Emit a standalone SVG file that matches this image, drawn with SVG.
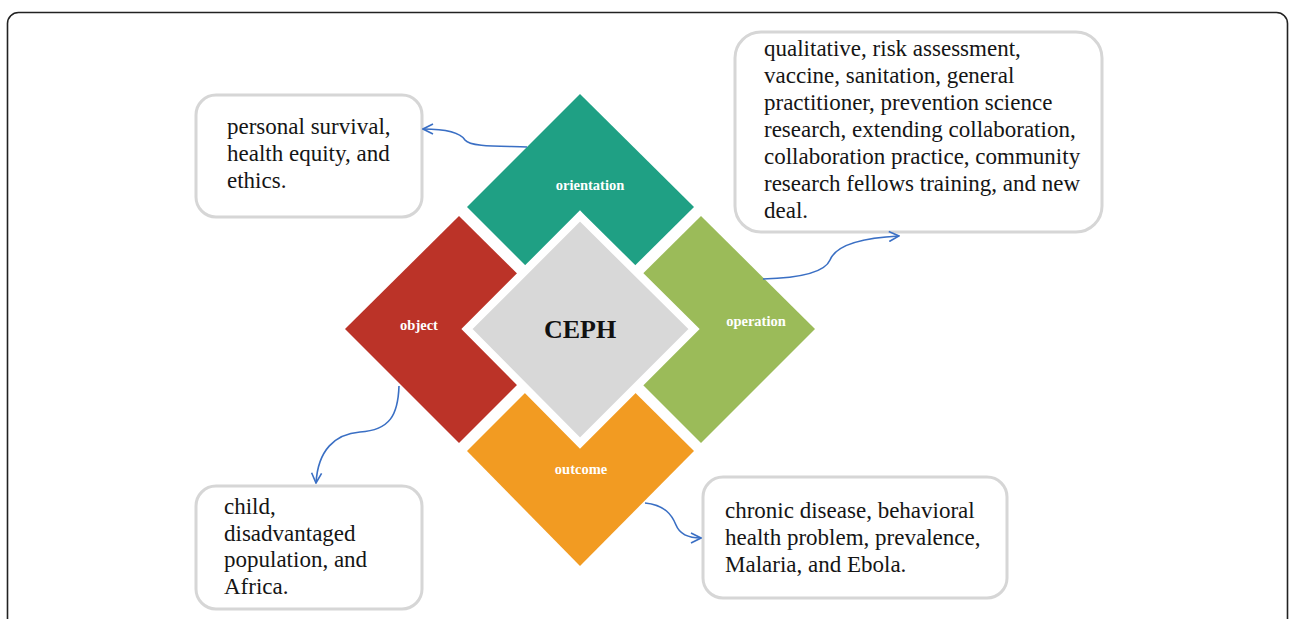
<svg xmlns="http://www.w3.org/2000/svg" width="1290" height="619" viewBox="0 0 1290 619">
<style>
.box{fill:#fff;stroke:#d6d6d6;stroke-width:3}
.t{font-family:"Liberation Serif","Times New Roman",serif;font-size:23px;fill:#151515}
.lab{font-family:"Liberation Serif","Times New Roman",serif;font-size:14.5px;font-weight:bold;fill:#fff;text-anchor:middle}
.con{fill:none;stroke:#3a6fc4;stroke-width:1.6;marker-end:url(#ah)}
</style>
<defs>
<marker id="ah" viewBox="0 0 12 12" refX="11" refY="6" markerWidth="12" markerHeight="12" markerUnits="userSpaceOnUse" orient="auto">
<path d="M1,1 L11,6 L1,11" fill="none" stroke="#3a6fc4" stroke-width="1.6"/>
</marker>
</defs>
<rect x="7.5" y="12.5" width="1280" height="640" rx="11" fill="#fff" stroke="#222" stroke-width="1.6"/>
<g id="orientation"><polygon points="580,94 694,207 580,320 467,207" fill="#1fa084"/></g>
<g id="object"><polygon points="459,216 573,329 459,443 345,329" fill="#bb3328"/></g>
<g id="operation"><polygon points="701,216 815,329 701,443 587,329" fill="#9bbb59"/></g>
<g id="outcome"><polygon points="580,338 694,451 580,566 467,451" fill="#f29b22"/></g>
<g id="ceph"><polygon points="580,216 694,329 580,443 467,329" fill="#d8d8d8" stroke="#fff" stroke-width="8" stroke-linejoin="miter"/><text x="580" y="338" font-family="Liberation Serif,Times New Roman,serif" font-size="26" font-weight="bold" fill="#111" text-anchor="middle">CEPH</text></g>
<g id="labels">
<text class="lab" x="590" y="190">orientation</text>
<text class="lab" x="419" y="330">object</text>
<text class="lab" x="756" y="326">operation</text>
<text class="lab" x="581" y="474">outcome</text>
</g>
<g id="box-orientation"><rect class="box" x="196" y="95" width="226" height="122" rx="20"/>
<text class="t" x="227" y="134">personal survival,</text>
<text class="t" x="227" y="161">health equity, and</text>
<text class="t" x="227" y="188">ethics.</text></g>
<g id="box-operation"><rect class="box" x="735" y="32" width="367" height="200" rx="26"/>
<text class="t" x="764" y="56">qualitative, risk assessment,</text>
<text class="t" x="764" y="83">vaccine, sanitation, general</text>
<text class="t" x="764" y="110">practitioner, prevention science</text>
<text class="t" x="764" y="137">research, extending collaboration,</text>
<text class="t" x="764" y="164">collaboration practice, community</text>
<text class="t" x="764" y="191">research fellows training, and new</text>
<text class="t" x="764" y="218">deal.</text></g>
<g id="box-object"><rect class="box" x="196" y="486" width="226" height="123" rx="20"/>
<text class="t" x="224" y="514">child,</text>
<text class="t" x="224" y="541">disadvantaged</text>
<text class="t" x="224" y="567">population, and</text>
<text class="t" x="224" y="594">Africa.</text></g>
<g id="box-outcome"><rect class="box" x="703" y="477" width="304" height="121" rx="20"/>
<text class="t" x="725" y="518">chronic disease, behavioral</text>
<text class="t" x="725" y="545">health problem, prevalence,</text>
<text class="t" x="725" y="572">Malaria, and Ebola.</text></g>
<g id="connectors">
<path class="con" d="M527,147 C500,146 470,147 465,140 C460,132 442,129 423,129"/>
<path class="con" d="M763,279 C800,278 825,272 830,260 C836,245 860,238 899,236"/>
<path class="con" d="M399,386 C398,415 390,430 360,432 C335,434 318,450 316,483"/>
<path class="con" d="M645,503 C665,505 672,515 676,525 C680,535 690,538 701,538"/>
</g>
</svg>
